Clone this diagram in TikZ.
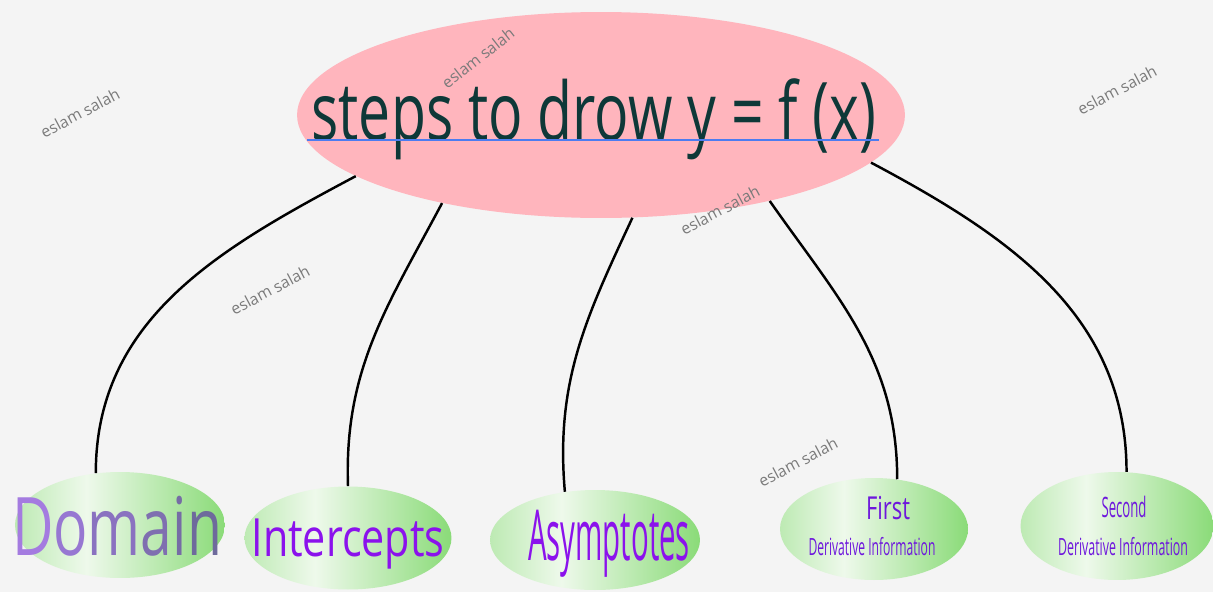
\documentclass[tikz,border=0pt]{standalone}
\usepackage{fontspec}
\setmainfont{Open Sans}
\usepackage{graphicx}
\usetikzlibrary{shapes.geometric}
\definecolor{bgray}{HTML}{F4F4F4}
\definecolor{pinkfill}{HTML}{FFB5BD}
\definecolor{titleink}{HTML}{0E3838}
\definecolor{lineblue}{HTML}{4C7CF0}
\definecolor{leafa}{HTML}{BDEAB3}
\definecolor{leafb}{HTML}{EEF9EB}
\definecolor{leafc}{HTML}{8ADB78}
\definecolor{violet1}{HTML}{8B12EC}
\definecolor{violet2}{HTML}{6E18DC}
\definecolor{wgray}{HTML}{7A7A7A}
\definecolor{doma}{HTML}{A47BE0}
\definecolor{domb}{HTML}{9777D2}
\definecolor{domc}{HTML}{8A72C0}
\definecolor{domd}{HTML}{7F6FB0}
\definecolor{dome}{HTML}{766CA5}
\definecolor{domf}{HTML}{6E6A9C}
\pgfdeclarehorizontalshading{leafshade}{100bp}{color(0bp)=(leafa); color(25bp)=(leafa); color(42bp)=(leafb); color(75bp)=(leafc); color(100bp)=(leafc)}
\newcommand{\squeeze}[2]{\resizebox{#1}{\height}{#2}}
\tikzset{
  leaf/.style={ellipse, shading=leafshade, inner sep=0pt},
  wmark/.style={text=wgray, font=\fontsize{9}{9}\selectfont, rotate=28},
  link/.style={line width=1.4pt},
  caption/.style={inner sep=0pt, anchor=base}
}
\begin{document}
\begin{tikzpicture}[x=0.02cm,y=0.02cm]
\useasboundingbox (0,0) rectangle (1213,-592);
\fill[bgray] (0,0) rectangle (1213,-592);
\node[ellipse, fill=pinkfill, minimum width=12.16cm, minimum height=4.12cm] (main) at (601,-115) {};
\node[leaf, minimum width=4.2cm, minimum height=2.12cm] (dom) at (120,-525) {};
\node[leaf, minimum width=4.14cm, minimum height=2.06cm] (icp) at (348,-538) {};
\node[leaf, minimum width=4.2cm, minimum height=2cm] (asy) at (595,-540) {};
\node[leaf, minimum width=3.76cm, minimum height=2.04cm] (fst) at (874,-529) {};
\node[leaf, minimum width=3.86cm, minimum height=2.16cm] (snd) at (1117,-526) {};
\draw[link] (main.194) to[out=208,in=90] (dom.115);
\draw[link] (main.209) to[out=242,in=92] (icp.north);
\draw[link] (main.287) to[out=245,in=95] (asy.122);
\draw[link] (main.333) to[out=-55,in=90] (fst.65);
\draw[link] (main.350) to[out=-28,in=90] (snd.80);
\node[wmark, rotate=10] (wm2) at (478,-58) {eslam salah};
\node[caption, text=titleink, font=\fontsize{46}{46}\selectfont] (ttl) at (594,-140) {\squeeze{11.3cm}{steps to drow y = f (x)}};
\draw[lineblue, line width=1.1pt] ([xshift=-0.08cm]ttl.base west) -- ([xshift=0.04cm]ttl.base east);
\node[caption, font=\fontsize{46}{46}\selectfont] (domtxt) at (117,-555) {\squeeze{4.2cm}{\textcolor{doma}{D}\textcolor{domb}{o}\textcolor{domc}{m}\textcolor{domd}{a}\textcolor{dome}{i}\textcolor{domf}{n}}};
\node[caption, text=violet1, font=\fontsize{30}{30}\selectfont] (icptxt) at (348,-556) {\squeeze{3.86cm}{Intercepts}};
\node[caption, text=violet1, font=\fontsize{40}{40}\selectfont] (asytxt) at (609,-560) {\squeeze{3.24cm}{Asymptotes}};
\node[caption, text=violet2, font=\fontsize{18}{18}\selectfont] (fsttxt) at (888,-519) {\squeeze{0.88cm}{First}};
\node[caption, text=violet2, font=\fontsize{13.5}{13.5}\selectfont] (fstinfo) at (872,-555) {\squeeze{2.54cm}{Derivative Information}};
\node[caption, text=violet2, font=\fontsize{16}{16}\selectfont] (sndtxt) at (1124,-517) {\squeeze{0.9cm}{Second}};
\node[caption, text=violet2, font=\fontsize{13.5}{13.5}\selectfont] (sndinfo) at (1123,-555) {\squeeze{2.6cm}{Derivative Information}};
\node[wmark] (wm1) at (80,-113) {eslam salah};
\node[wmark] (wm3) at (270,-290) {eslam salah};
\node[wmark] (wm4) at (720,-210) {eslam salah};
\node[wmark] (wm5) at (1117,-90) {eslam salah};
\node[wmark] (wm6) at (798,-462) {eslam salah};
\end{tikzpicture}
\end{document}
